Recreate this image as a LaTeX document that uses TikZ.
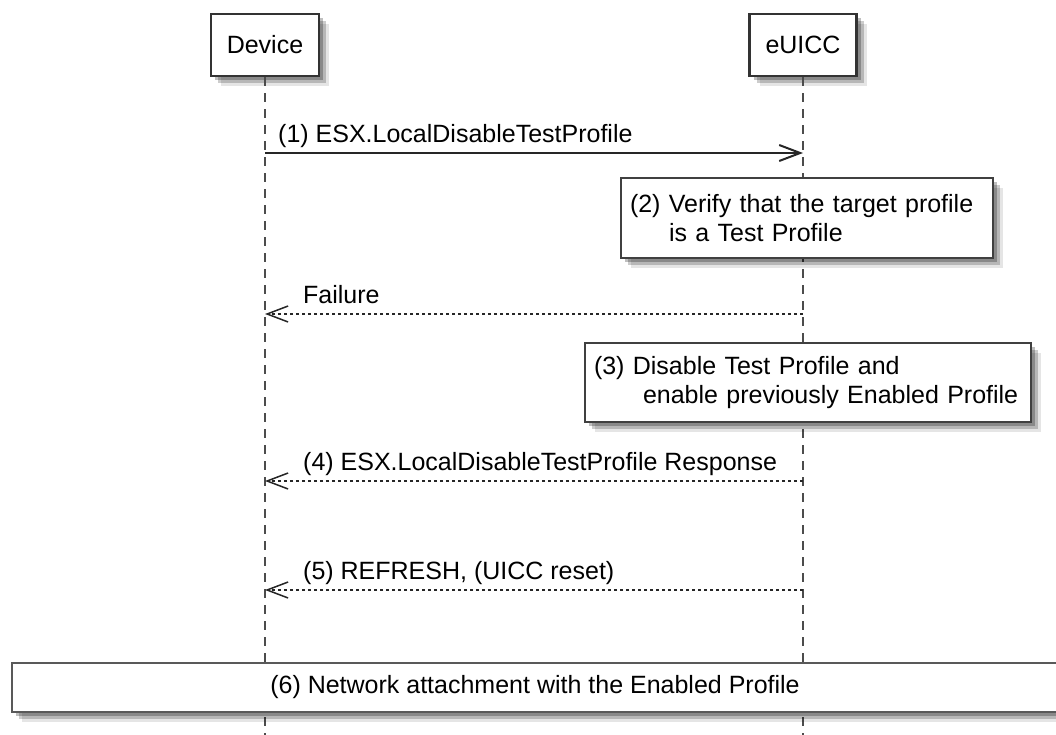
\documentclass[tikz,border=0pt]{standalone}
\usepackage{fontspec}
\setmainfont{Liberation Sans}
\usetikzlibrary{arrows.meta,shadows}
\begin{document}
\begin{tikzpicture}[x=1pt,y=-1pt,
  every node/.style={font=\fontsize{25}{29}\selectfont},
  softshadow/.style={drop shadow={shadow xshift=4pt,shadow yshift=-4pt,fill=black,opacity=0.25},
                     drop shadow={shadow xshift=7pt,shadow yshift=-7pt,fill=black,opacity=0.2},
                     drop shadow={shadow xshift=10pt,shadow yshift=-10pt,fill=black,opacity=0.1}},
  part/.style={draw=black!80,line width=2.5pt,fill=white,inner xsep=16pt,minimum height=62pt,softshadow},
  note/.style={draw=black!75,line width=2pt,fill=white,align=left,inner xsep=9pt,anchor=north west,softshadow},
  life/.style={draw=black!70,line width=1.5pt,dash pattern=on 9pt off 7pt},
  msg/.style={draw=black!85,line width=2pt,-{Straight Barb[length=21pt,width=16pt]}},
  ret/.style={msg,line width=1.5pt,dash pattern=on 3pt off 3pt},
  lbl/.style={anchor=base west,inner sep=0pt}]
\useasboundingbox (0,0) rectangle (1056,735);
\coordinate (bottom) at (0,735);
% participants
\node[part] (dev) at (265,45) {Device};
\node[part] (euicc) at (803,45) {eUICC};
% lifelines
\draw[life] (dev.south) -- (dev.south |- bottom);
\draw[life] (euicc.south) -- (euicc.south |- bottom);
% (1)
\coordinate (y1) at (0,153);
\draw[msg] (dev.south |- y1) -- (euicc.south |- y1);
\node[lbl] (l1) at (278,143) {(1) ESX.LocalDisableTestProfile};
% (2) note
\node[note,text width=354pt,minimum height=80pt] (n2) at (620,177)
  {(2) Verify that the target profile\\\hspace*{39pt}is a Test Profile};
% Failure
\coordinate (y2) at (0,314);
\draw[ret] (euicc.south |- y2) -- (dev.south |- y2);
\node[lbl] (l2) at (303,303) {Failure};
% (3) note
\node[note,text width=428pt,minimum height=79pt] (n3) at (584,342)
  {(3) Disable Test Profile and\\\hspace*{49pt}enable previously Enabled Profile};
% (4)
\coordinate (y4) at (0,481);
\draw[ret] (euicc.south |- y4) -- (dev.south |- y4);
\node[lbl] (l4) at (303,470) {(4) ESX.LocalDisableTestProfile Response};
% (5)
\coordinate (y5) at (0,590);
\draw[ret] (euicc.south |- y5) -- (dev.south |- y5);
\node[lbl] (l5) at (303,579) {(5) REFRESH, (UICC reset)};
% (6)
\node[draw=black!65,line width=2pt,fill=white,softshadow,minimum width=1046pt,minimum height=49pt] (n6)
  at (535,687.5) {(6) Network attachment with the Enabled Profile};
\end{tikzpicture}
\end{document}
